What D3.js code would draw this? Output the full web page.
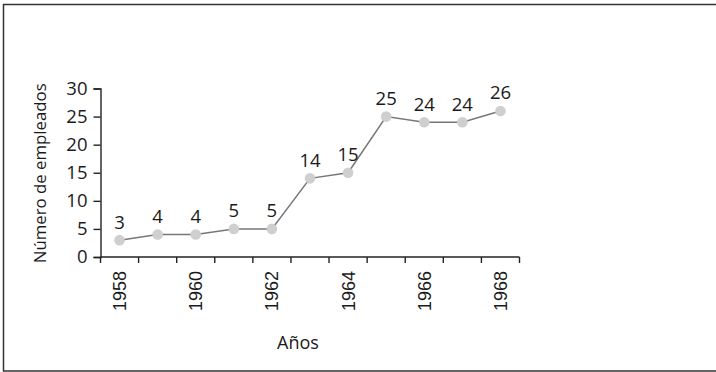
<!DOCTYPE html>
<html>
<head>
<meta charset="utf-8">
<script src="https://cdn.jsdelivr.net/npm/d3@7"></script>
<style>
  html, body { margin: 0; padding: 0; background: #fff; }
  svg { display: block; }
</style>
</head>
<body>
<svg id="chart" width="716" height="372"></svg>
<script>
// Employees per year
const years = [1958, 1959, 1960, 1961, 1962, 1963, 1964, 1965, 1966, 1967, 1968];
const employees = [3, 4, 4, 5, 5, 14, 15, 25, 24, 24, 26];
const yTicks = [0, 5, 10, 15, 20, 25, 30];
const xLabelYears = [1958, 1960, 1962, 1964, 1966, 1968];

const svg = d3.select("#chart");
const humanist = "'Open Sans', 'Noto Sans', sans-serif";

// Outer frame
svg.append("rect")
  .attr("x", 3.5).attr("y", 4.5)
  .attr("width", 720).attr("height", 366.5)
  .attr("fill", "none").attr("stroke", "#333").attr("stroke-width", 1.5);

const plotLeft = 100.5, plotRight = 519.5, plotTop = 88.5, plotBottom = 257;

const x = d3.scaleBand().domain(years).range([plotLeft, plotRight]);
const y = d3.scaleLinear().domain([0, 30]).range([plotBottom, plotTop]);

// Y axis
const yAxis = svg.append("g")
  .attr("transform", `translate(${plotLeft},0)`)
  .call(d3.axisLeft(y).tickValues(yTicks).tickSize(7).tickPadding(6));
yAxis.select(".domain").attr("stroke", "#222").attr("stroke-width", 1.4);
yAxis.selectAll(".tick line").attr("stroke", "#222").attr("stroke-width", 1.4);
yAxis.selectAll(".tick text")
  .attr("font-family", humanist).attr("font-size", 18.5).attr("fill", "#1a1a1a");

// X axis: ticks on band boundaries, labels on alternate years
const xAxisG = svg.append("g").attr("transform", `translate(0,${plotBottom})`);
xAxisG.append("line")
  .attr("x1", plotLeft).attr("x2", plotRight).attr("y1", 0).attr("y2", 0)
  .attr("stroke", "#222").attr("stroke-width", 1.4);
const boundaries = years.map(d => x(d)).concat([x(years[years.length - 1]) + x.bandwidth()]);
xAxisG.selectAll("line.tick")
  .data(boundaries)
  .join("line")
  .attr("class", "tick")
  .attr("x1", d => d).attr("x2", d => d)
  .attr("y1", 0).attr("y2", 6)
  .attr("stroke", "#222").attr("stroke-width", 1.4);
xAxisG.selectAll("text.year")
  .data(xLabelYears)
  .join("text")
  .attr("class", "year")
  .attr("transform", d => `translate(${x(d) + x.bandwidth() / 2},${14}) rotate(-90)`)
  .attr("text-anchor", "end")
  .attr("dy", "0.36em")
  .attr("font-family", "'Liberation Sans', Arial, sans-serif")
  .attr("font-size", 18)
  .attr("fill", "#1a1a1a")
  .text(d => d);

// Axis titles
svg.append("text")
  .attr("transform", `translate(46,${(plotTop + plotBottom) / 2 + 0.5}) rotate(-90)`)
  .attr("text-anchor", "middle")
  .attr("font-family", humanist).attr("font-size", 16.8).attr("fill", "#1a1a1a")
  .text("Número de empleados");

svg.append("text")
  .attr("x", 298).attr("y", 349)
  .attr("text-anchor", "middle")
  .attr("font-family", humanist).attr("font-size", 18).attr("fill", "#1a1a1a")
  .text("Años");

// Series
const pts = years.map((yr, i) => ({ yr, v: employees[i] }));
const cx = d => x(d.yr) + x.bandwidth() / 2;

svg.append("path")
  .datum(pts)
  .attr("fill", "none").attr("stroke", "#777").attr("stroke-width", 1.5)
  .attr("d", d3.line().x(cx).y(d => y(d.v)));

svg.selectAll("circle.pt")
  .data(pts)
  .join("circle")
  .attr("class", "pt")
  .attr("cx", cx).attr("cy", d => y(d.v)).attr("r", 5.3)
  .attr("fill", "#cfcfcf");

svg.selectAll("text.val")
  .data(pts)
  .join("text")
  .attr("class", "val")
  .attr("x", cx).attr("y", d => y(d.v) - 11.5)
  .attr("text-anchor", "middle")
  .attr("font-family", humanist).attr("font-size", 18.5).attr("fill", "#1a1a1a")
  .text(d => d.v);
</script>
</body>
</html>
